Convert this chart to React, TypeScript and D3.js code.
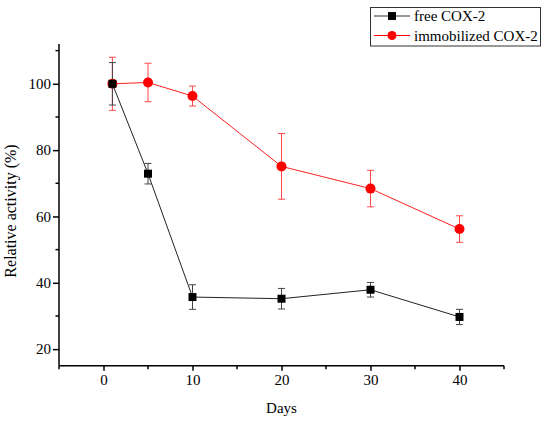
import React, { useEffect, useRef } from 'react';
import * as d3 from 'd3';

const days = [1, 5, 10, 20, 30, 40];
const freeValues = [100, 72.9, 35.7, 35.2, 37.9, 29.7];
const freeErrors = [6.4, 3.1, 3.7, 3.1, 2.2, 2.3];
const immobilizedValues = [100, 100.4, 96.3, 75.1, 68.4, 56.2];
const immobilizedErrors = [8, 5.8, 3, 9.9, 5.5, 4];
const xMajorTicks = [0, 10, 20, 30, 40];
const xMinorTicks = [-5, 5, 15, 25, 35, 45];
const yMajorTicks = [20, 40, 60, 80, 100];
const yMinorTicks = [30, 50, 70, 90, 110];
const seriesNames = ['free COX-2', 'immobilized COX-2'];

const W = 550;
const H = 423;
const FONT = "'Liberation Serif', 'Times New Roman', 'DejaVu Serif', serif";

const App: React.FC = () => {
  const svgRef = useRef<SVGSVGElement>(null);

  useEffect(() => {
    if (!svgRef.current) return;
    const svg = d3.select(svgRef.current);
    svg.selectAll('*').remove();

    const x = d3.scaleLinear().domain([-5, 45]).range([59, 504]);
    const y = d3.scaleLinear().domain([15, 112]).range([365.7, 44]);

    // axes
    const xAxis = svg.append('g').attr('transform', `translate(0,${y(15)})`);
    xAxis.call(d3.axisBottom(x).tickValues(xMajorTicks).tickSize(5).tickPadding(4).tickFormat(d3.format('d')) as any);
    xAxis.select('.domain').attr('d', `M${x(-5)},0H${x(45)}`);
    xMinorTicks.forEach((t) => {
      xAxis.append('line').attr('x1', x(t)).attr('x2', x(t)).attr('y1', 0).attr('y2', 3.5)
        .attr('stroke', '#000').attr('stroke-width', 1.5);
    });

    const yAxis = svg.append('g').attr('transform', `translate(${x(-5)},0)`);
    yAxis.call(d3.axisLeft(y).tickValues(yMajorTicks).tickSize(6).tickPadding(2).tickFormat(d3.format('d')) as any);
    yAxis.select('.domain').attr('d', `M0,${y(15)}V${y(112)}`);
    yMinorTicks.forEach((t) => {
      yAxis.append('line').attr('x1', 0).attr('x2', -3.5).attr('y1', y(t)).attr('y2', y(t))
        .attr('stroke', '#000').attr('stroke-width', 1.5);
    });

    svg.selectAll('g').attr('font-family', null).attr('font-size', null);
    svg.selectAll('.domain').attr('stroke', '#000').attr('stroke-width', 1.5);
    svg.selectAll('.tick line').attr('stroke', '#000').attr('stroke-width', 1.5);
    svg.selectAll('.tick text')
      .style('font-family', FONT)
      .style('font-size', '15px')
      .attr('fill', '#000');

    // axis titles
    svg.append('text')
      .attr('x', x(20)).attr('y', 413)
      .attr('text-anchor', 'middle')
      .style('font-family', FONT).style('font-size', '15px')
      .text('Days');
    svg.append('text')
      .attr('transform', `translate(16,${211}) rotate(-90)`)
      .attr('text-anchor', 'middle')
      .style('font-family', FONT).style('font-size', '16px')
      .text('Relative activity (%)');

    const line = d3.line<number>().x((_, i) => x(days[i])).y((d) => y(d));

    const drawSeries = (
      values: number[],
      errors: number[],
      lineColor: string,
      errColor: string,
      marker: 'square' | 'circle',
      markerColor: string,
    ) => {
      const g = svg.append('g');
      // error bars
      values.forEach((v, i) => {
        const cx = x(days[i]);
        const y1 = y(v + errors[i]);
        const y2 = y(v - errors[i]);
        g.append('line').attr('x1', cx).attr('x2', cx).attr('y1', y1).attr('y2', y2)
          .attr('stroke', errColor).attr('stroke-width', 1);
        [y1, y2].forEach((yy) => {
          g.append('line').attr('x1', cx - 3.5).attr('x2', cx + 3.5).attr('y1', yy).attr('y2', yy)
            .attr('stroke', errColor).attr('stroke-width', 1);
        });
      });
      g.append('path').datum(values).attr('d', line as any)
        .attr('fill', 'none').attr('stroke', lineColor).attr('stroke-width', 1);
      values.forEach((v, i) => {
        const cx = x(days[i]);
        const cy = y(v);
        if (marker === 'square') {
          g.append('rect').attr('x', cx - 4).attr('y', cy - 4).attr('width', 8).attr('height', 8)
            .attr('fill', markerColor);
        } else {
          g.append('circle').attr('cx', cx).attr('cy', cy).attr('r', 5).attr('fill', markerColor);
        }
      });
    };

    drawSeries(immobilizedValues, immobilizedErrors, '#ff2020', '#ff4848', 'circle', '#ff0000');
    drawSeries(freeValues, freeErrors, '#222', '#444', 'square', '#000');

    // legend
    const lg = svg.append('g');
    lg.append('rect').attr('x', 370.5).attr('y', 7.5).attr('width', 170).attr('height', 38.5)
      .attr('fill', '#fff').attr('stroke', '#333').attr('stroke-width', 1);
    const rows = [
      { name: seriesNames[0], color: '#333', marker: 'square', mColor: '#000' },
      { name: seriesNames[1], color: '#ff0000', marker: 'circle', mColor: '#ff0000' },
    ];
    rows.forEach((r, i) => {
      const ly = 16 + i * 19.5;
      lg.append('line').attr('x1', 374).attr('x2', 410).attr('y1', ly).attr('y2', ly)
        .attr('stroke', r.color).attr('stroke-width', 1);
      if (r.marker === 'square') {
        lg.append('rect').attr('x', 388).attr('y', ly - 4).attr('width', 8).attr('height', 8).attr('fill', r.mColor);
      } else {
        lg.append('circle').attr('cx', 392).attr('cy', ly).attr('r', 4.5).attr('fill', r.mColor);
      }
      lg.append('text').attr('x', 414).attr('y', ly + 5)
        .style('font-family', FONT).style('font-size', '15px').attr('fill', '#000')
        .text(r.name);
    });
  }, []);

  return (
    <svg
      ref={svgRef}
      width={W}
      height={H}
      style={{ position: 'absolute', left: 0, top: 0, background: '#fff' }}
    />
  );
};

export default App;
